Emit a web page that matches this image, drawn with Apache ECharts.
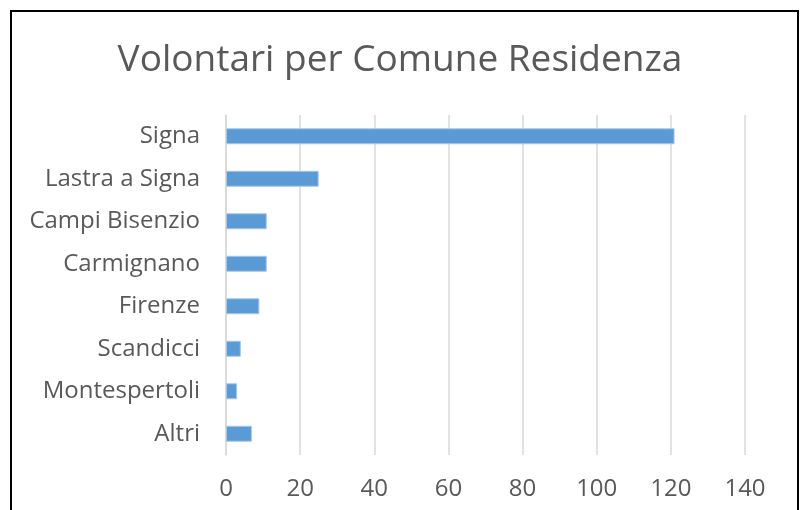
<!DOCTYPE html>
<html>
<head>
<meta charset="utf-8">
<script src="https://cdn.jsdelivr.net/npm/echarts@6/dist/echarts.min.js"></script>
<style>
  html, body { margin: 0; padding: 0; background: #fff; }
  #chart { width: 800px; height: 510px; }
</style>
</head>
<body>
<div id="chart"></div>
<script>
// comuni, dall'alto verso il basso
var comuni = ['Signa', 'Lastra a Signa', 'Campi Bisenzio', 'Carmignano', 'Firenze', 'Scandicci', 'Montespertoli', 'Altri'];
var volontari = [121, 25, 11, 11, 9, 4, 3, 7];
var xTicks = [0, 20, 40, 60, 80, 100, 120, 140];

var chart = echarts.init(document.getElementById('chart'));

var option = {
  backgroundColor: '#ffffff',
  animation: false,
  title: {
    text: 'Volontari per Comune Residenza',
    left: 'center',
    top: 37,
    textStyle: {
      fontFamily: 'Open Sans',
      fontSize: 37,
      fontWeight: 'normal',
      color: '#595959'
    }
  },
  // cornice nera
  graphic: [{
    type: 'rect',
    shape: { x: 11, y: 11, width: 787, height: 530 },
    style: { fill: 'none', stroke: '#000', lineWidth: 2 },
    silent: true
  }],
  grid: {
    left: 226,
    right: 55,
    top: 115,
    bottom: 55
  },
  xAxis: {
    type: 'value',
    min: xTicks[0],
    max: xTicks[xTicks.length - 1],
    interval: 20,
    axisLine: { show: false },
    axisTick: { show: false },
    splitLine: { lineStyle: { color: '#D9D9D9', width: 1.5 } },
    axisLabel: {
      fontFamily: 'Open Sans',
      fontSize: 24,
      color: '#595959',
      margin: 22
    }
  },
  yAxis: {
    type: 'category',
    inverse: true,
    data: comuni,
    axisLine: { show: true, lineStyle: { color: '#D9D9D9', width: 1.5 } },
    axisTick: { show: false },
    axisLabel: {
      fontFamily: 'Open Sans',
      fontSize: 24,
      color: '#595959',
      margin: 26
    }
  },
  series: [{
    type: 'bar',
    data: volontari,
    barWidth: 16,
    itemStyle: {
      color: '#5B9BD5',
      borderColor: '#A9C8E8',
      borderWidth: 1
    }
  }]
};

chart.setOption(option);
</script>
</body>
</html>
